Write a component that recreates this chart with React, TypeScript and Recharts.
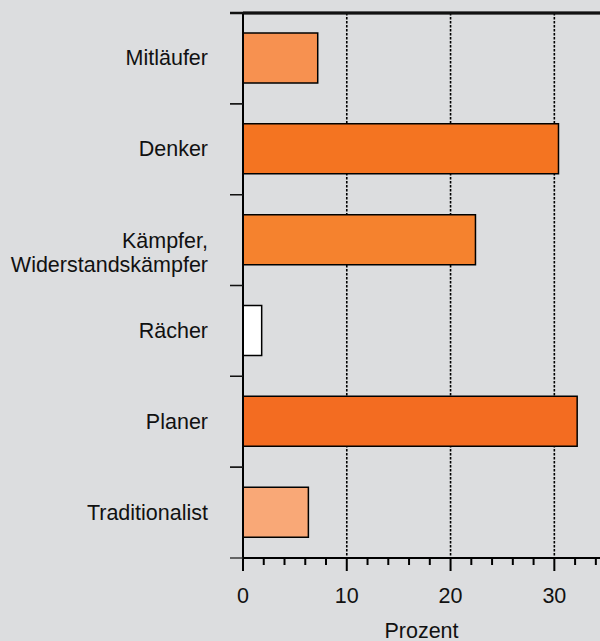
import { BarChart, Bar, XAxis, YAxis, CartesianGrid, Cell, ReferenceLine } from 'recharts'

const categories = ['Mitläufer', 'Denker', 'Kämpfer,\nWiderstandskämpfer', 'Rächer', 'Planer', 'Traditionalist']
const values = [7.2, 30.4, 22.4, 1.8, 32.2, 6.3]
const barColors = ['#F79150', '#F47421', '#F5822E', '#FFFFFF', '#F36C21', '#F9A877']
const xTicks = [0, 2, 4, 6, 8, 10, 12, 14, 16, 18, 20, 22, 24, 26, 28, 30, 32, 34]
const gridValues = [10, 20, 30]

const data = categories.map((name, i) => ({ name, value: values[i] }))

const W = 600
const H = 641
const TOP = 13
const Y_AXIS_W = 243
const X_AXIS_H = 83
const BAND = (H - TOP - X_AXIS_H) / categories.length
const FONT = '"Liberation Sans", Arial, sans-serif'

const YTick = (props: any) => {
    const { x, y, payload } = props
    const lines = String(payload.value).split('\n')
    const top = y - BAND / 2
    const first = payload.value === categories[0]
    return (
        <g>
            <line x1={x - 13} x2={first ? W : x} y1={top} y2={top} stroke='#111' strokeWidth={first ? 2.5 : 1.3} />
            <line x1={x - 13} x2={x} y1={top + BAND} y2={top + BAND} stroke='#222' strokeWidth={1.3} />
            {lines.map((l, i) => (
                <text
                    key={i}
                    x={x - 35}
                    y={lines.length > 1 ? y + 8 + i * 24 : y + 7}
                    textAnchor='end'
                    fontSize={21.5}
                    fontFamily={FONT}
                    fill='#111'
                >
                    {l}
                </text>
            ))}
        </g>
    )
}

const XTick = (props: any) => {
    const { x, y, payload } = props
    const major = payload.value % 10 === 0
    return (
        <g>
            <line x1={x} x2={x} y1={y} y2={y + (major ? 13 : 7)} stroke='#000' strokeWidth={2} />
            {major && (
                <text x={x} y={y + 45} textAnchor='middle' fontSize={21.5} fontFamily={FONT} fill='#111'>
                    {payload.value}
                </text>
            )}
        </g>
    )
}

export default function App() {
    return (
        <div style={{ position: 'absolute', left: 0, top: 0, width: W, height: H, background: '#DCDDDF' }}>
            <BarChart
                layout='vertical'
                data={data}
                width={W}
                height={H}
                margin={{ top: TOP, right: 0, bottom: 0, left: 0 }}
                barCategoryGap={0}
                barSize={50}
            >
                <CartesianGrid
                    horizontal={false}
                    verticalValues={gridValues}
                    stroke='#000'
                    strokeWidth={1.6}
                    strokeDasharray='2.5 1.5'
                />
                <XAxis
                    type='number'
                    domain={[0, 34.4]}
                    ticks={xTicks}
                    interval={0}
                    allowDataOverflow
                    height={X_AXIS_H}
                    tickSize={0}
                    tickMargin={0}
                    tickLine={false}
                    tick={<XTick />}
                    axisLine={{ stroke: '#000', strokeWidth: 2 }}
                    label={{ value: 'Prozent', position: 'insideBottom', offset: 3, fontSize: 21.5, fontFamily: FONT, fill: '#111' }}
                />
                <YAxis
                    type='category'
                    dataKey='name'
                    width={Y_AXIS_W}
                    tickSize={0}
                    tickMargin={0}
                    tickLine={false}
                    interval={0}
                    tick={<YTick />}
                    axisLine={{ stroke: '#000', strokeWidth: 2 }}
                />
                <Bar dataKey='value' stroke='#000' strokeWidth={1.5} isAnimationActive={false}>
                    {data.map((_, i) => (
                        <Cell key={i} fill={barColors[i]} />
                    ))}
                </Bar>
                {/* top frame line along the upper edge of the first band */}
                <ReferenceLine y={categories[0]} position='start' stroke='#111' strokeWidth={3} ifOverflow='visible' />
            </BarChart>
        </div>
    )
}
